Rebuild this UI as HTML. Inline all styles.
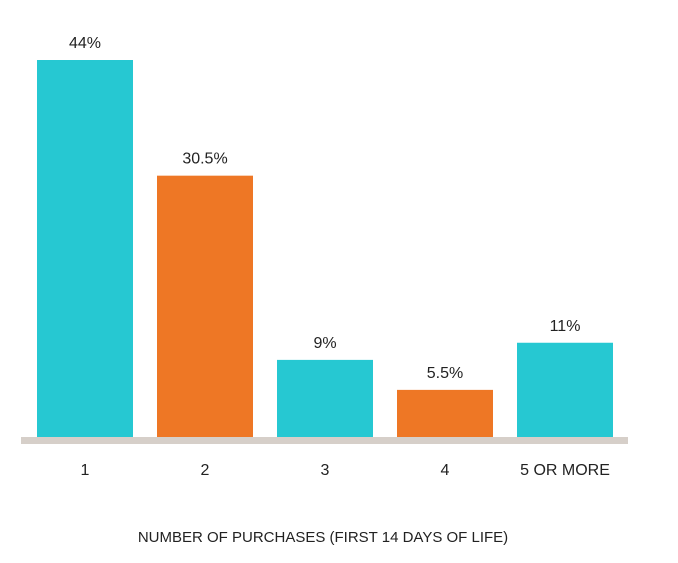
<!DOCTYPE html>
<html><head><meta charset="utf-8"><style>
body{margin:0;background:#fff;width:678px;height:558px;overflow:hidden}
text{font-family:"Liberation Sans",sans-serif;fill:#222}
</style></head><body>
<svg id="chart" width="678" height="558">
<rect x="21" y="437" width="607" height="7" fill="#d6cfc9"/>
<text x="323" y="542" font-size="15" text-anchor="middle">NUMBER OF PURCHASES (FIRST 14 DAYS OF LIFE)</text>
</svg>
<script>
const categories=["1","2","3","4","5 OR MORE"];
const values=[44,30.5,9,5.5,11];
const valueLabels=["44%","30.5%","9%","5.5%","11%"];
const colors=["#26c8d2","#ee7725"];
const svg=document.getElementById('chart');
const NS="http://www.w3.org/2000/svg";
const base=437, scale=377/44;
const xPos=i=>37+i*120;
const yPos=v=>base-v*scale;
values.forEach((v,i)=>{
 const r=document.createElementNS(NS,'rect');
 
 
 r.setAttribute('x',xPos(i));r.setAttribute('width',96);
 r.setAttribute('y',yPos(v));r.setAttribute('height',base-yPos(v));
 r.setAttribute('fill',colors[i%2]);svg.appendChild(r);
 const t=document.createElementNS(NS,'text');
 
 
 t.setAttribute('x',xPos(i)+48);t.setAttribute('y',yPos(v)-12);
 t.setAttribute('text-anchor','middle');t.setAttribute('font-size','16');
 t.textContent=valueLabels[i];svg.appendChild(t);
 const c=document.createElementNS(NS,'text');
 
 
 c.setAttribute('x',xPos(i)+48);c.setAttribute('y',475);
 c.setAttribute('text-anchor','middle');c.setAttribute('font-size','16');
 c.textContent=categories[i];svg.appendChild(c);
});
</script>
</body></html>
